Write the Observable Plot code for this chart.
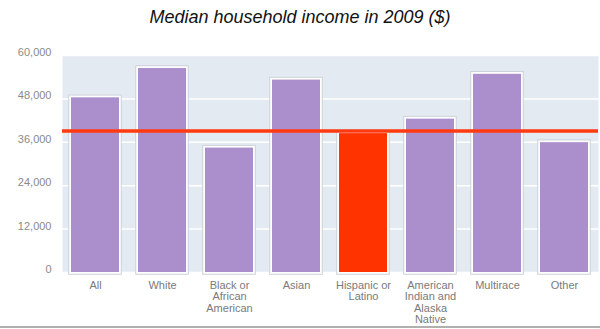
<!DOCTYPE html>
<html>
<head>
<meta charset="utf-8">
<script src="https://cdn.jsdelivr.net/npm/d3@7"></script>
<script src="https://cdn.jsdelivr.net/npm/@observablehq/plot@0.6"></script>
<style>
  html, body { margin: 0; padding: 0; background: #fff; }
  #wrap { width: 600px; height: 329px; position: relative; overflow: hidden; }
  #title { height: 40px; line-height: 34px; text-align: center; font-family: "Liberation Sans", Arial, sans-serif; font-style: italic; font-size: 18px; color: #111; }
  #chart svg { display: block; }
  #bottomline { position: absolute; left: 0; top: 326px; width: 600px; height: 2px; background: #b0b0b0; }
</style>
</head>
<body>
<div id="wrap">
  <div id="title">Median household income in 2009 ($)</div>
  <div id="chart"></div>
  <div id="bottomline"></div>
</div>
<script>
const categories = ["All", "White", "Black or\nAfrican\nAmerican", "Asian", "Hispanic or\nLatino", "American\nIndian and\nAlaska\nNative", "Multirace", "Other"];
const incomes = [48300, 56400, 34400, 53200, 38400, 42400, 54800, 35900];
const highlighted = "Hispanic or\nLatino";
const referenceLine = [39100];
const yTicks = [0, 12000, 24000, 36000, 48000, 60000];

const data = categories.map((c, i) => ({category: c, income: incomes[i]}));

const chart = Plot.plot({
  width: 600,
  height: 286,
  marginTop: 15,
  marginBottom: 54,
  marginLeft: 62,
  marginRight: 2,
  style: {fontFamily: "'Liberation Sans', Arial, sans-serif", fontSize: "11px", color: "#808080", background: "transparent"},
  x: {domain: categories, paddingInner: 0.28, paddingOuter: 0.14, label: null},
  y: {domain: [0, 60000], label: null},
  marks: [
    Plot.frame({fill: "#e4eaf2", stroke: null}),
    Plot.gridY(yTicks, {stroke: "#ffffff", strokeOpacity: 1, strokeWidth: 1.5}),
    Plot.barY(data, {x: "category", y: "income", fill: "none", stroke: "#cdd1d9", strokeWidth: 5.5}),
    Plot.barY(data, {x: "category", y: "income", fill: "none", stroke: "#ffffff", strokeWidth: 3.5}),
    Plot.barY(data, {x: "category", y: "income", fill: d => d.category === highlighted ? "#ff3300" : "#ab8fcc"}),
    Plot.ruleY(referenceLine, {stroke: "#ff3a10", strokeWidth: 3.5}),
    Plot.axisY({ticks: yTicks, tickFormat: d3.format(","), tickSize: 0, tickPadding: 11, dy: -3, fill: "#8a8a8a", label: null}),
    Plot.axisX({tickSize: 0, tickPadding: 8, lineHeight: 1.05, fill: "#7a7a7a", label: null})
  ]
});
document.getElementById("chart").appendChild(chart);
</script>
</body>
</html>
